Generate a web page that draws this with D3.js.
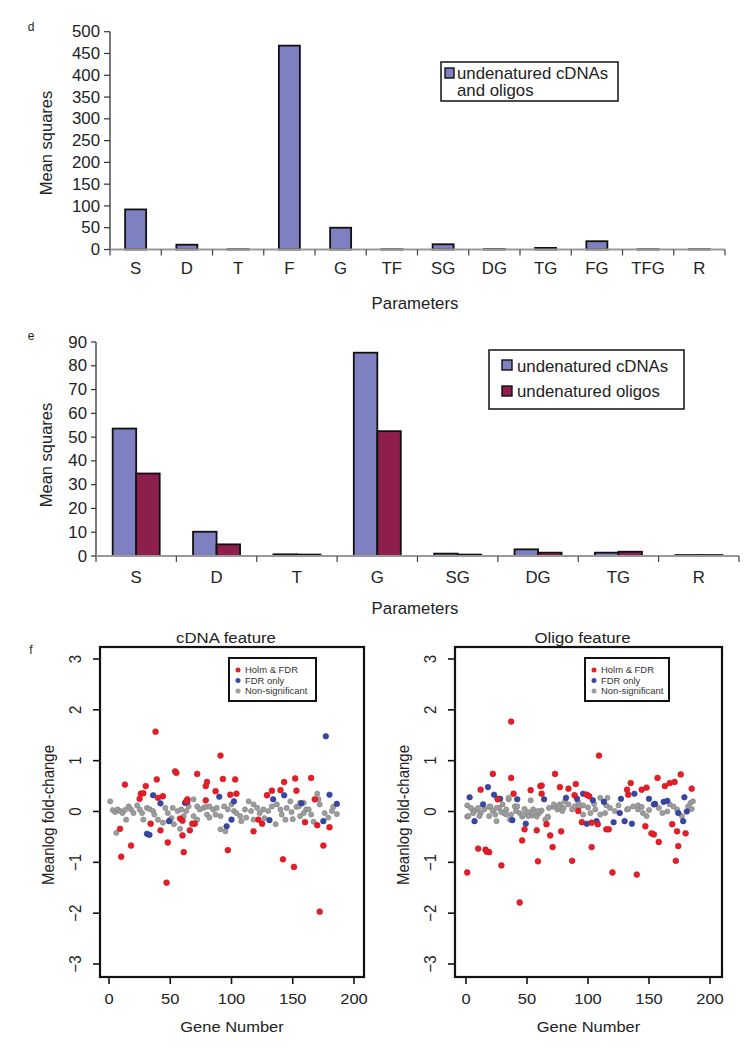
<!DOCTYPE html>
<html><head><meta charset="utf-8">
<script src="https://cdn.jsdelivr.net/npm/d3@7"></script>
<style>
body{margin:0;background:#fff}
svg{display:block}
text{font-family:"Liberation Sans",Arial,Helvetica,sans-serif;fill:#222}
</style>
</head><body>
<svg id="c" width="750" height="1056"></svg>
<script>
// ---------- Panel d data ----------
const dCategories = ["S","D","T","F","G","TF","SG","DG","TG","FG","TFG","R"];
const dValues = [92,11,0.5,468,50,0.5,12,0.8,3.7,19,0.5,0.5];
const dYTicks = [0,50,100,150,200,250,300,350,400,450,500];
const dSeriesName = ["undenatured cDNAs","and oligos"];

// ---------- Panel e data ----------
const eCategories = ["S","D","T","G","SG","DG","TG","R"];
const eCdna  = [53.6,10.2,0.7,85.5,1.0,2.8,1.4,0.4];
const eOligo = [34.7,4.9,0.6,52.5,0.6,1.4,1.8,0.4];
const eYTicks = [0,10,20,30,40,50,60,70,80,90];
const eSeriesNames = ["undenatured cDNAs","undenatured oligos"];

// ---------- Panel f data: [gene number, mean log fold-change] ----------
const fXTicks = [0,50,100,150,200];
const fYTicks = [-3,-2,-1,0,1,2,3];
const fLegend = ["Holm & FDR","FDR only","Non-significant"];

const cdnaHolm = [[38,1.57],[91,1.10],[54,0.79],[55,0.76],[72,0.74],[13,0.53],[30,0.50],[39,0.63],[80,0.58],[79,0.50],[93,0.64],[103,0.63],[143,0.58],[152,0.65],[165,0.66],[153,0.41],[133,0.41],[140,0.42],[129,0.32],[87,0.40],[99,0.33],[104,0.35],[26,0.35],[28,0.36],[25,0.25],[40,0.27],[44,0.30],[64,0.24],[63,0.20],[79,0.22],[168,0.24],[58,-0.14],[60,-0.18],[70,-0.24],[68,-0.24],[122,-0.16],[125,-0.24],[160,-0.21],[34,-0.24],[9,-0.34],[42,-0.37],[66,-0.37],[60,-0.47],[118,-0.39],[18,-0.67],[48,-0.61],[61,-0.80],[10,-0.89],[97,-0.76],[142,-0.94],[151,-1.09],[47,-1.40],[172,-1.97],[175,-0.67],[180,-0.31],[170,-0.27]];
const cdnaFdr = [[36,0.32],[42,0.16],[62,0.17],[64,0.19],[90,0.29],[102,0.20],[134,0.24],[143,0.32],[49,-0.19],[100,-0.16],[96,-0.29],[131,-0.17],[31,-0.44],[33,-0.46],[177,1.48],[180,0.33],[186,0.15],[175,-0.19],[157,0.16]];
const cdnaNon = [[1,0.20],[3,0.03],[5,-0.01],[7,0.04],[9,0.01],[11,-0.03],[13,0.03],[16,0.10],[18,0.04],[20,-0.03],[14,-0.16],[6,-0.42],[23,0.12],[25,0.04],[27,-0.03],[31,0.07],[33,0.05],[36,0.01],[37,-0.06],[46,0.07],[48,-0.03],[51,-0.13],[52,0.07],[56,0.01],[59,0.04],[58,-0.34],[63,0.01],[65,0.10],[69,0.24],[72,0.10],[74,0.04],[77,0.07],[79,0.09],[82,0.10],[85,0.04],[88,0.07],[91,-0.09],[91,-0.35],[95,-0.39],[94,0.10],[97,0.04],[102,0.01],[104,-0.03],[107,-0.09],[108,-0.19],[111,0.04],[114,0.20],[116,0.01],[118,0.14],[121,0.07],[123,-0.03],[126,0.04],[127,-0.13],[130,0.01],[133,0.10],[136,-0.25],[140,0.04],[141,-0.06],[145,0.07],[148,0.20],[149,-0.01],[153,0.09],[156,0.17],[159,0.17],[161,0.04],[150,-0.15],[156,-0.09],[50,-0.16],[53,-0.25],[69,-0.09],[72,-0.16],[80,-0.06],[82,-0.12],[112,-0.12],[118,-0.16],[61,-0.09],[28,-0.16],[40,-0.16],[44,-0.22],[87,-0.06],[100,0.14],[137,0.14],[144,-0.16],[159,-0.03],[163,0.04],[165,-0.06],[172,0.14],[176,-0.03],[182,0.01],[183,0.09],[179,-0.12],[155,0.10],[171,0.24],[170,0.35],[186,-0.05],[167,-0.20]];

const oligoHolm = [[109,1.10],[37,1.77],[22,0.74],[37,0.66],[73,0.74],[12,0.43],[39,0.35],[53,0.42],[61,0.50],[62,0.51],[62,0.35],[77,0.48],[84,0.45],[90,0.54],[89,0.32],[99,0.33],[101,0.30],[135,0.56],[132,0.43],[133,0.33],[144,0.43],[148,0.47],[157,0.66],[163,0.50],[167,0.56],[171,0.58],[176,0.73],[185,0.45],[26,0.24],[92,0.01],[1,-1.20],[10,-0.73],[16,-0.75],[19,-0.80],[17,-0.79],[29,-1.06],[44,-1.79],[46,-0.57],[48,-0.35],[58,-0.37],[59,-0.98],[66,-0.25],[69,-0.47],[71,-0.70],[78,-0.39],[87,-0.97],[95,-0.21],[103,-0.22],[108,-0.25],[103,-0.70],[115,-0.35],[117,-0.35],[120,-1.20],[140,-1.24],[147,-0.29],[152,-0.43],[154,-0.45],[158,-0.60],[169,-0.25],[173,-0.39],[174,-0.68],[172,-0.97],[180,-0.43]];
const oligoFdr = [[3,0.28],[18,0.48],[23,0.33],[26,0.25],[28,0.25],[14,0.14],[42,0.24],[64,0.24],[82,0.27],[91,0.25],[96,0.35],[104,0.22],[113,0.19],[127,0.25],[138,0.35],[150,0.25],[155,0.15],[162,0.19],[165,0.21],[179,0.28],[126,-0.03],[174,-0.03],[181,0.0],[7,-0.19],[38,-0.17],[49,-0.24],[99,-0.24],[107,-0.19],[121,-0.21],[130,-0.19],[136,-0.24],[154,0.14],[178,-0.19]];
const oligoNon = [[1,0.12],[1,-0.10],[4,0.07],[6,-0.01],[8,0.03],[10,0.07],[12,-0.03],[11,-0.09],[15,0.04],[19,0.09],[22,0.01],[24,-0.06],[27,0.07],[29,-0.01],[30,0.14],[33,0.04],[35,0.24],[37,-0.06],[40,0.10],[41,0.01],[44,-0.03],[46,-0.10],[48,0.05],[51,-0.01],[53,0.22],[54,-0.08],[55,0.04],[58,-0.10],[60,-0.03],[62,0.02],[65,-0.16],[67,-0.10],[68,0.07],[72,0.09],[75,0.04],[77,0.14],[79,0.01],[81,0.20],[84,0.14],[87,0.04],[89,0.10],[92,0.18],[25,-0.19],[36,-0.16],[19,-0.09],[2,-0.09],[6,-0.03],[20,0.10],[25,0.07],[31,-0.03],[33,-0.06],[42,0.10],[47,-0.06],[51,-0.09],[55,-0.03],[59,0.01],[67,-0.12],[72,0.14],[76,0.10],[80,0.07],[93,0.10],[96,-0.06],[102,-0.03],[106,0.04],[110,-0.06],[114,-0.03],[118,0.07],[122,0.01],[132,0.04],[137,0.10],[141,0.04],[145,-0.03],[148,-0.09],[158,0.07],[161,-0.03],[167,0.14],[173,0.04],[177,-0.09],[182,0.10],[184,0.17],[110,0.27],[116,0.27],[141,0.12],[144,0.09],[170,0.10],[186,0.20],[185,0.05],[125,0.12],[133,0.05],[150,0.03],[165,0.0],[115,0.12],[105,0.15],[100,0.08],[96,0.12],[35,0.27]];

// ---------- helpers ----------
const svg = d3.select("#c");
const BLUE = "#7f80c2", MAROON = "#8e1e4c";
const FS = 16, SX = 1.05;
function txt(x, y, s, o = {}) {
  const size = o.size || FS, sx = o.sx || 1, rot = o.rot || 0;
  let tr = `translate(${x},${y})`;
  if (rot) tr += ` rotate(${rot}) scale(1,${sx})`; else tr += ` scale(${sx},1)`;
  return svg.append("text").attr("transform", tr)
    .attr("text-anchor", o.anchor || "middle")
    .attr("font-size", size).style("fill", o.fill || "#222").text(s);
}
function line(x1, y1, x2, y2, stroke, w) {
  svg.append("line").attr("x1", x1).attr("y1", y1).attr("x2", x2).attr("y2", y2)
    .attr("stroke", stroke).attr("stroke-width", w);
}

// ================= Panel d =================
{
  const xD = d3.scaleBand().domain(dCategories).range([110, 725]).paddingInner(0.59).paddingOuter(0.295);
  const yD = d3.scaleLinear().domain([0, 500]).range([249.5, 31.7]);
  const step = xD.step();
  svg.append("g").selectAll("rect").data(dCategories).join("rect")
    .attr("x", c => xD(c)).attr("width", xD.bandwidth())
    .attr("y", (c, i) => yD(dValues[i])).attr("height", (c, i) => yD(0) - yD(dValues[i]))
    .attr("fill", BLUE).attr("stroke", "#111").attr("stroke-width", 1.8);
  line(110, yD(500), 110, yD(0), "#333", 1.3);
  dYTicks.forEach(t => {
    line(104, yD(t), 110, yD(t), "#333", 1.2);
    txt(100, yD(t) + 5.6, t, { anchor: "end", sx: SX });
  });
  line(110, yD(0), 725, yD(0), "#999", 1.8);
  for (let i = 0; i <= dCategories.length; i++) line(110 + i * step, yD(0), 110 + i * step, yD(0) + 6, "#444", 1.2);
  dCategories.forEach(c => txt(xD(c) + xD.bandwidth() / 2, 274, c, { sx: SX }));
  txt(415, 309, "Parameters", { sx: SX });
  txt(52, 143, "Mean squares", { rot: -90, sx: SX, size: 16.5 });
  txt(31, 31, "d", { size: 12 });
  svg.append("rect").attr("x", 441).attr("y", 62).attr("width", 177).attr("height", 39)
    .attr("fill", "#fff").attr("stroke", "#111").attr("stroke-width", 1.5);
  svg.append("rect").attr("x", 445).attr("y", 68).attr("width", 9).attr("height", 10)
    .attr("fill", BLUE).attr("stroke", "#111").attr("stroke-width", 1.4);
  txt(457, 79, dSeriesName[0], { anchor: "start", sx: SX });
  txt(457, 96, dSeriesName[1], { anchor: "start", sx: SX });
}

// ================= Panel e =================
{
  const xE = d3.scaleBand().domain(eCategories).range([96, 739]).paddingInner(0.415).paddingOuter(0.2075);
  const xSub = d3.scaleBand().domain(["c", "o"]).range([0, xE.bandwidth()]);
  const yE = d3.scaleLinear().domain([0, 90]).range([556, 342]);
  const step = xE.step();
  const series = [{ k: "c", v: eCdna, col: BLUE }, { k: "o", v: eOligo, col: MAROON }];
  series.forEach(s => {
    svg.append("g").selectAll("rect").data(eCategories).join("rect")
      .attr("x", c => xE(c) + xSub(s.k)).attr("width", xSub.bandwidth())
      .attr("y", (c, i) => yE(s.v[i])).attr("height", (c, i) => yE(0) - yE(s.v[i]))
      .attr("fill", s.col).attr("stroke", "#111").attr("stroke-width", 1.8);
  });
  line(96, yE(90), 96, yE(0), "#333", 1.3);
  eYTicks.forEach(t => {
    line(91, yE(t), 96, yE(t), "#333", 1.2);
    txt(87, yE(t) + 5.6, t, { anchor: "end", sx: SX });
  });
  line(96, yE(0), 739, yE(0), "#999", 1.8);
  for (let i = 0; i <= eCategories.length; i++) line(96 + i * step, yE(0), 96 + i * step, yE(0) + 6, "#444", 1.2);
  eCategories.forEach(c => txt(xE(c) + xE.bandwidth() / 2, 583, c, { sx: SX }));
  txt(415, 614, "Parameters", { sx: SX });
  txt(52, 455, "Mean squares", { rot: -90, sx: SX, size: 16.5 });
  txt(31, 340, "e", { size: 12 });
  svg.append("rect").attr("x", 489).attr("y", 350).attr("width", 195).attr("height", 59)
    .attr("fill", "#fff").attr("stroke", "#111").attr("stroke-width", 1.5);
  [[BLUE, 360, 372], [MAROON, 386, 397]].forEach((m, i) => {
    svg.append("rect").attr("x", 502).attr("y", m[1]).attr("width", 10).attr("height", 10)
      .attr("fill", m[0]).attr("stroke", "#111").attr("stroke-width", 1.4);
    txt(517, m[2], eSeriesNames[i], { anchor: "start", sx: SX });
  });
}

// ================= Panel f =================
const RED = "#ea1d27", DBLUE = "#3847a6", GRAY = "#9d9d9d";
function scatter(o) {
  const x = d3.scaleLinear().domain([0, 200]).range([o.x0, o.x200]);
  const y = d3.scaleLinear().domain([-3, 3]).range([964, 659]);
  const g = svg.append("g");
  const groups = [[o.non, GRAY, 2.6], [o.fdr, DBLUE, 2.8], [o.holm, RED, 2.9]];
  groups.forEach(([d, col, r]) => {
    g.append("g").selectAll("circle").data(d).join("circle")
      .attr("cx", p => x(p[0])).attr("cy", p => y(p[1])).attr("r", r)
      .attr("fill", col).attr("stroke", d3.color(col).darker(0.6)).attr("stroke-width", 0.6);
  });
  svg.append("rect").attr("x", o.bx0).attr("y", 647).attr("width", o.bx1 - o.bx0).attr("height", 330)
    .attr("fill", "none").attr("stroke", "#111").attr("stroke-width", 2.2);
  fYTicks.forEach(t => {
    line(o.bx0 - 7, y(t), o.bx0, y(t), "#111", 1.6);
    txt(o.bx0 - 24 + 5, y(t), t < 0 ? "\u2212" + Math.abs(t) : t, { rot: -90, sx: 1.1, size: 15 });
  });
  fXTicks.forEach(t => {
    line(x(t), 977, x(t), 984, "#111", 1.6);
    txt(x(t), 1004, t, { sx: 1.1, size: 15 });
  });
  const cx = (o.bx0 + o.bx1) / 2;
  txt(cx, 1032, "Gene Number", { sx: 1.1, size: 15 });
  txt(cx - 6, 643, o.title, { sx: 1.12, size: 15 });
  txt(o.bx0 - 52 + 6, 815, "Meanlog fold-change", { rot: -90, sx: 1.1, size: 15 });
  svg.append("rect").attr("x", o.lx0).attr("y", 658).attr("width", o.lx1 - o.lx0).attr("height", 43)
    .attr("fill", "#fff").attr("stroke", "#111").attr("stroke-width", 2);
  [[RED, 670], [DBLUE, 680.5], [GRAY, 691]].forEach((m, i) => {
    svg.append("circle").attr("cx", o.lx0 + 9).attr("cy", m[1]).attr("r", 2.5).attr("fill", m[0]);
    txt(o.lx0 + 16, m[1] + 3.2, fLegend[i], { anchor: "start", sx: 1.05, size: 9, fill: "#333" });
  });
}
scatter({ x0: 109, x200: 354, bx0: 100, bx1: 364, title: "cDNA feature", lx0: 229, lx1: 316, holm: cdnaHolm, fdr: cdnaFdr, non: cdnaNon });
scatter({ x0: 466, x200: 710, bx0: 455, bx1: 722, title: "Oligo feature", lx0: 585, lx1: 669, holm: oligoHolm, fdr: oligoFdr, non: oligoNon });
txt(31, 654, "f", { size: 12 });
</script>
</body></html>
